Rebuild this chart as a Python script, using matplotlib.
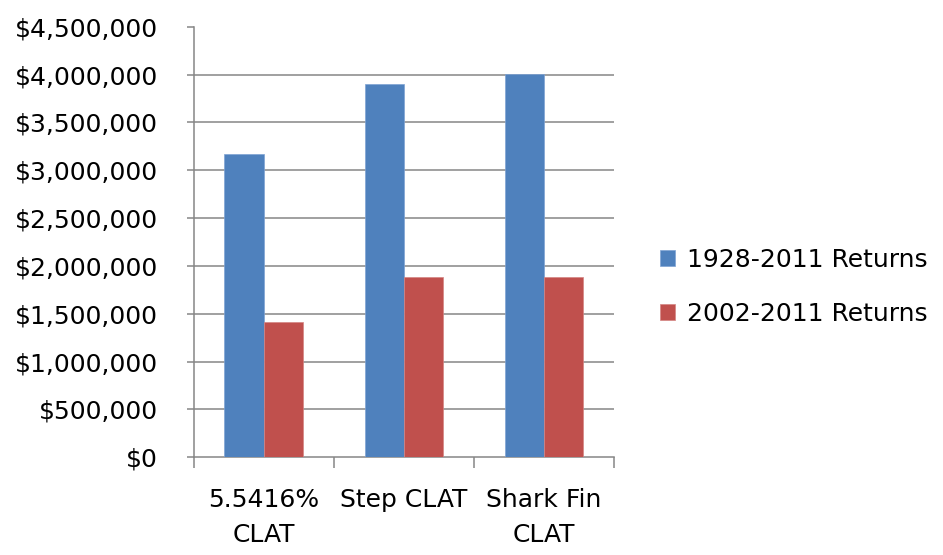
import matplotlib.pyplot as plt
import matplotlib.ticker as mticker
import numpy as np

# CLAT ending values under two historical return windows
categories = ['5.5416%\nCLAT', 'Step CLAT', 'Shark Fin\nCLAT']
returns_1928_2011 = [3167000, 3905000, 4005000]
returns_2002_2011 = [1414000, 1882000, 1882000]
series_names = ['1928-2011 Returns', '2002-2011 Returns']

BLUE = '#4F81BD'
RED = '#C0504D'
GRID = '#868686'

plt.rcParams['font.family'] = 'DejaVu Sans'
plt.rcParams['font.size'] = 18

fig = plt.figure(figsize=(9.43, 5.55), dpi=100)
ax = fig.add_axes([0.2057, 0.176, 0.4454, 0.7757])

x = np.arange(len(categories))
w = 0.282
ax.bar(x - w / 2, returns_1928_2011, w, color=BLUE, edgecolor='#7fa3d3',
       linewidth=0.5, label=series_names[0], zorder=3)
ax.bar(x + w / 2, returns_2002_2011, w, color=RED, edgecolor='#d48583',
       linewidth=0.5, label=series_names[1], zorder=3)

ax.set_xlim(-0.5, 2.5)
ax.set_ylim(0, 4500000)
ax.yaxis.set_major_locator(mticker.MultipleLocator(500000))
ax.yaxis.set_major_formatter(mticker.FuncFormatter(lambda v, p: '${:,.0f}'.format(v)))

# category labels at centres, tick marks at the boundaries
ax.set_xticks(x)
ax.set_xticklabels(categories, linespacing=1.6)
ax.set_xticks(np.arange(-0.5, 3.0, 1.0), minor=True)
ax.tick_params(axis='x', which='major', length=0, pad=22)
ax.tick_params(axis='x', which='minor', length=8, width=1.1, color=GRID, direction='out')
ax.tick_params(axis='y', length=5, width=1.1, color=GRID, pad=21)

# horizontal gridlines, none along the top edge
for v in np.arange(500000, 4500000, 500000):
    ax.axhline(v, color=GRID, linewidth=1.1, zorder=0)
for side in ['top', 'right']:
    ax.spines[side].set_visible(False)
for side in ['left', 'bottom']:
    ax.spines[side].set_color(GRID)
    ax.spines[side].set_linewidth(1.1)

ax.legend(loc='center left', bbox_to_anchor=(0.6995, 0.483), bbox_transform=fig.transFigure,
          frameon=False, handlelength=0.6, handleheight=0.6, handletextpad=0.5,
          labelspacing=1.2, borderaxespad=0, borderpad=0)

fig.savefig('out.png', dpi=100)
